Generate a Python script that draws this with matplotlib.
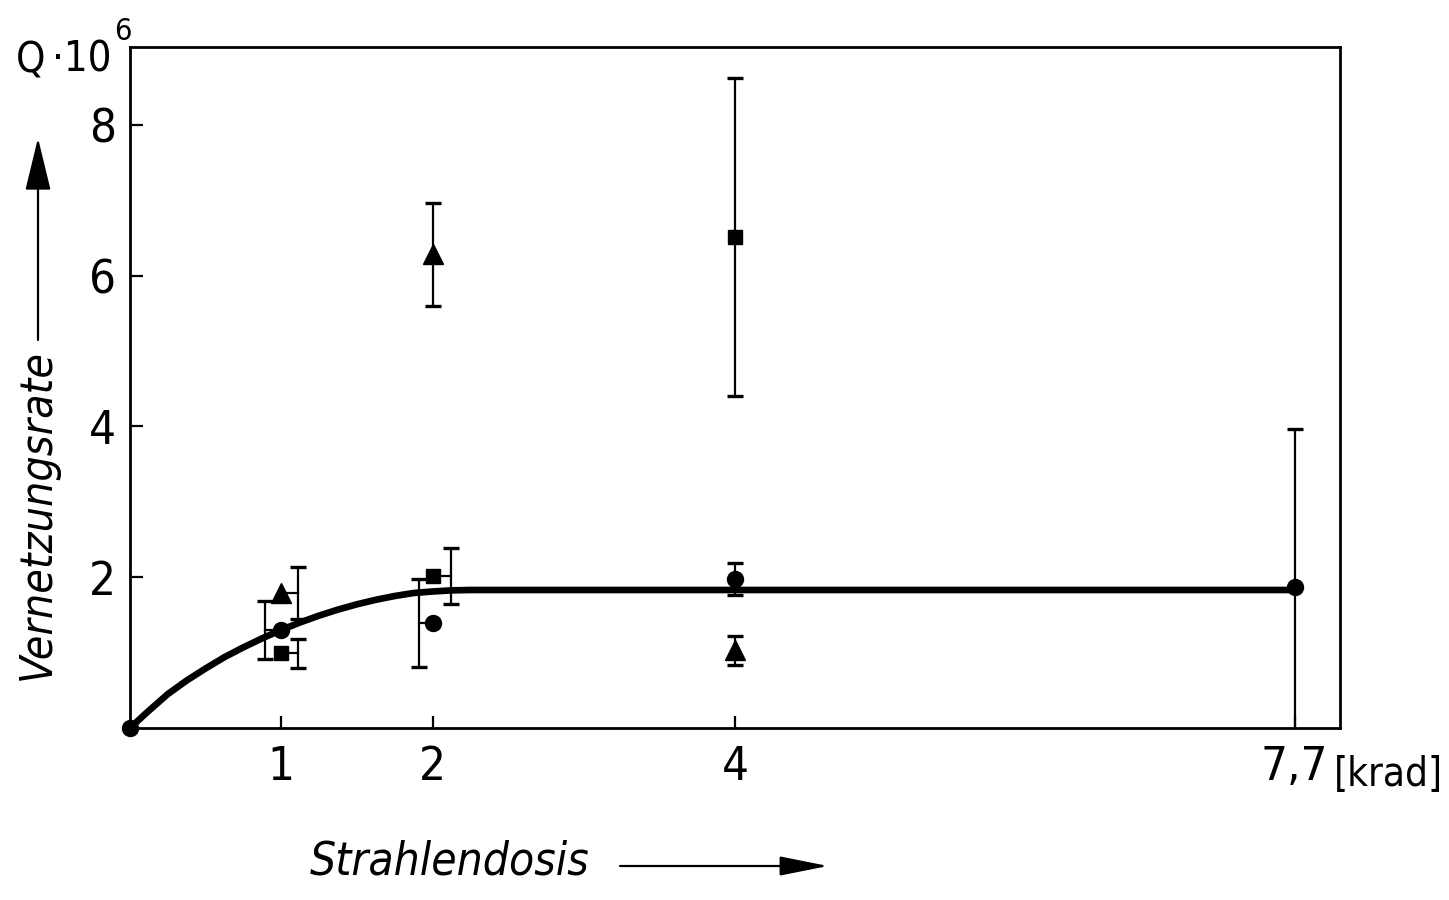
import matplotlib
matplotlib.use("Agg")
import matplotlib.pyplot as plt
from matplotlib import font_manager
from matplotlib.patches import FancyArrowPatch, ArrowStyle

# Radiation dose (krad) and crosslinking rate Q * 10^6
circle_x = [0.0, 1.0, 2.0, 4.0, 7.7]
circle_y = [0.0, 1.30, 1.39, 1.98, 1.87]
circle_err = [0.0, 0.39, 0.58, 0.21, 2.10]

square_x = [1.0, 2.0, 4.0]
square_y = [0.99, 2.02, 6.51]
square_err = [0.19, 0.37, 2.11]

triangle_x = [1.0, 2.0, 4.0]
triangle_y = [1.79, 6.28, 1.03]
triangle_err = [0.35, 0.68, 0.19]

# Fitted saturation curve through the circle series
curve_x = [0.0, 0.125, 0.25, 0.375, 0.5, 0.625, 0.75, 0.875, 1.0, 1.125, 1.25, 1.375,
           1.5, 1.625, 1.75, 1.875, 2.0, 2.125, 2.25, 2.5, 3.0, 4.0, 7.7]
curve_y = [0.0, 0.23, 0.45, 0.63, 0.79, 0.94, 1.07, 1.19, 1.30, 1.40, 1.49, 1.57,
           1.64, 1.70, 1.75, 1.79, 1.81, 1.825, 1.83, 1.83, 1.83, 1.83, 1.83]

x_ticks = [1, 2, 4, 7.7]
x_tick_labels = ["1", "2", "4", "7,7"]
y_ticks = [2, 4, 6, 8]
y_tick_labels = ["2", "4", "6", "8"]

# Pick a narrow sans face if one is installed
_names = {f.name for f in font_manager.fontManager.ttflist}
if "Liberation Sans Narrow" in _names:
    FAM, STRETCH = "Liberation Sans Narrow", "normal"
else:
    FAM, STRETCH = "DejaVu Sans", "condensed"
plt.rcParams["font.family"] = [FAM, "DejaVu Sans"]
plt.rcParams["font.stretch"] = STRETCH

W, H = 1449, 900
fig = plt.figure(figsize=(W / 100, H / 100), dpi=100)
fig.patch.set_facecolor("white")

def fx(px):
    return px / W

def fy(py):
    return 1 - py / H

ax = fig.add_axes([fx(130), fy(728), fx(1340) - fx(130), fy(47) - fy(728)])
ax.set_xlim(0, 8.0)
ax.set_ylim(0, 9.03)

for s in ax.spines.values():
    s.set_linewidth(2.0)
    s.set_color("black")

ax.set_xticks(x_ticks)
ax.set_xticklabels(x_tick_labels)
ax.set_yticks(y_ticks)
ax.set_yticklabels(y_tick_labels)
ax.tick_params(direction="in", length=9, width=1.6, labelsize=34, colors="black")
ax.tick_params(axis="x", pad=12)
ax.tick_params(axis="y", pad=10)

# Horizontal offsets of the error bars relative to their markers
circle_off = [0.0, -0.11, -0.09, 0.0, 0.0]
square_off = [0.11, 0.12, 0.0]
triangle_off = [0.11, 0.0, 0.0]

eb_kw = dict(fmt="none", ecolor="black", elinewidth=1.6, capsize=6, capthick=2.4, zorder=2)

def draw_bars(xs, ys, errs, offs):
    for x, y, e, o in zip(xs, ys, errs, offs):
        if e <= 0:
            continue
        ax.errorbar([x + o], [y], yerr=[e], **eb_kw)
        if o != 0:
            ax.plot([x, x + o], [y, y], color="black", lw=1.6, zorder=2)

draw_bars(circle_x, circle_y, circle_err, circle_off)
draw_bars(square_x, square_y, square_err, square_off)
draw_bars(triangle_x, triangle_y, triangle_err, triangle_off)

ax.plot(curve_x, curve_y, color="black", lw=4.8, solid_capstyle="round",
        solid_joinstyle="round", zorder=3)

ax.plot(circle_x, circle_y, "o", color="black", ms=11.5, zorder=4, clip_on=False)
ax.plot(square_x, square_y, "s", color="black", ms=10.5, zorder=4)
ax.plot(triangle_x, triangle_y, "^", color="black", ms=15, zorder=4)

# Quantity and unit captions
fig.text(fx(16), fy(72), "Q", fontsize=30, ha="left", va="baseline", color="black")
fig.text(fx(52), fy(72), "\u00b710", fontsize=30, ha="left", va="baseline", color="black")
fig.text(fx(114), fy(40), "6", fontsize=22, ha="left", va="baseline", color="black")

fig.text(fx(1334), fy(775), "[krad]", fontsize=29, ha="left", va="center", color="black")

fig.text(fx(37), fy(515), "Vernetzungsrate", fontsize=32, style="italic",
         rotation=90, ha="center", va="center", color="black")
fig.text(fx(450), fy(862), "Strahlendosis", fontsize=33, style="italic",
         ha="center", va="center", color="black")

# Direction arrows
fig.add_artist(FancyArrowPatch((fx(38), fy(340)), (fx(38), fy(138)),
                               transform=fig.transFigure,
                               arrowstyle=ArrowStyle("-|>", head_length=3.3, head_width=0.8),
                               mutation_scale=10, lw=1.6, color="black",
                               shrinkA=0, shrinkB=0))
fig.add_artist(FancyArrowPatch((fx(620), fy(866)), (fx(828), fy(866)),
                               transform=fig.transFigure,
                               arrowstyle=ArrowStyle("-|>", head_length=3.0, head_width=0.6),
                               mutation_scale=10, lw=1.6, color="black",
                               shrinkA=0, shrinkB=0))

fig.savefig("out.png", dpi=100, facecolor="white")
